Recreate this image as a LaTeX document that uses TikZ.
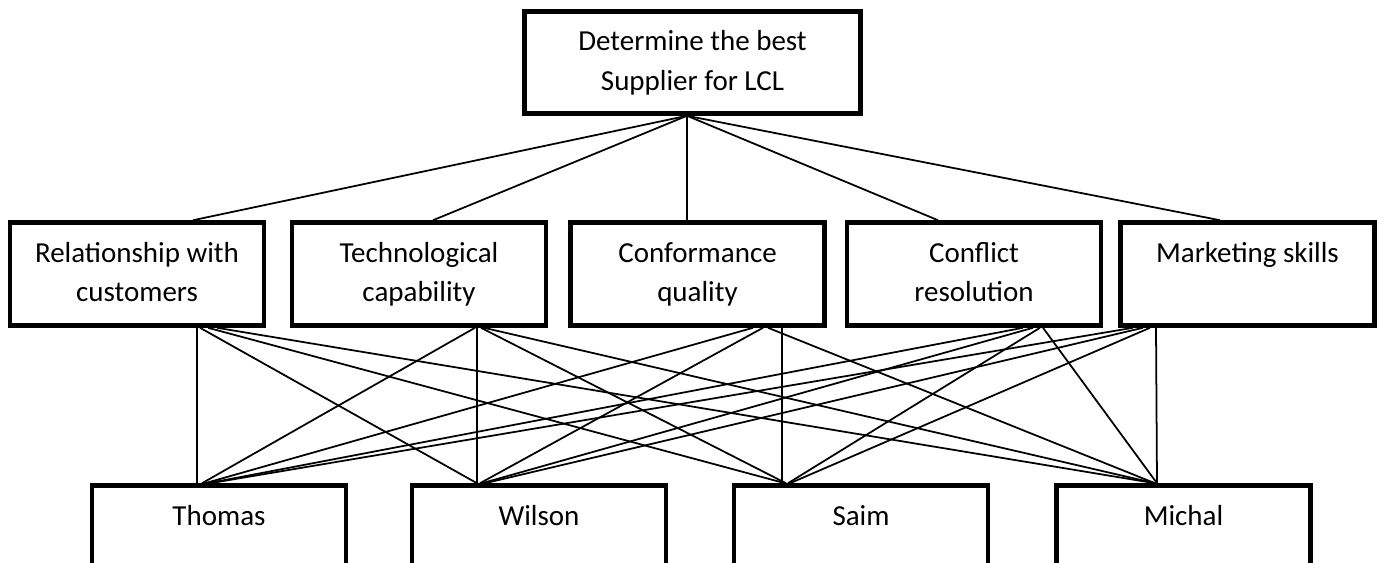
\documentclass[tikz,border=0pt]{standalone}
\usepackage{fontspec}
\setmainfont{Carlito}
\usetikzlibrary{calc}
\tikzset{
  box/.style={draw=black, line width=2.6pt, inner sep=0pt, align=center,
    minimum width=5.08cm, minimum height=2.06cm,
    font=\fontsize{16.5}{22.7}\selectfont},
  topbox/.style={box, minimum width=6.72cm, minimum height=2.04cm},
  link/.style={line width=1pt, black}
}
\begin{document}
\begin{tikzpicture}[x=0.02cm, y=-0.02cm]
\useasboundingbox (0,0) rectangle (1383,562);
\begin{scope}
\clip (0,0) rectangle (1383,562);
\node[topbox] (top) at (692.5,62.5) {\strut Determine the best\\\strut Supplier for LCL};

\node[box] (r1) at (137,274)    {\strut Relationship with\\\strut customers};
\node[box] (r2) at (419,274)    {\strut Technological\\\strut capability};
\node[box] (r3) at (697.5,274)  {\strut Conformance\\\strut quality};
\node[box] (r4) at (974,274)    {\strut Conflict\\\strut resolution};
\node[box] (r5) at (1247.5,274) {\strut Marketing skills\\\strut};

\node[box] (b1) at (219,537)    {\strut Thomas\\\strut};
\node[box] (b2) at (539,537)    {\strut Wilson\\\strut};
\node[box] (b3) at (861,537)    {\strut Saim\\\strut};
\node[box] (b4) at (1183.5,537) {\strut Michal\\\strut};

\foreach \b/\bx in {r1/56, r2/14, r3/-10.5, r4/-36, r5/-27.5}
  \draw[link] ($(top.south)+(-5.5,0)$) -- ($(\b.north)+(\bx,0)$);

\foreach \a/\ax/\b/\bx in {
  r1/60/b1/-22, r1/63/b2/-62, r1/71/b3/-76, r1/80/b4/-28.5,
  r2/56/b1/-17, r2/58/b2/-62, r2/62/b3/-75, r2/65/b4/-28.5,
  r3/55.5/b1/-14, r3/65.5/b2/-59, r3/84.5/b3/-79, r3/70.5/b4/-28.5,
  r4/49/b1/-11, r4/59/b2/-57, r4/66/b3/-73, r4/69/b4/-26.5,
  r5/-114.5/b1/-9, r5/-104.5/b2/-54, r5/-97.5/b3/-71, r5/-91.5/b4/-26.5}
  \draw[link] ($(\a.south)+(\ax,0)$) -- ($(\b.north)+(\bx,0)$);
\end{scope}
\end{tikzpicture}
\end{document}
